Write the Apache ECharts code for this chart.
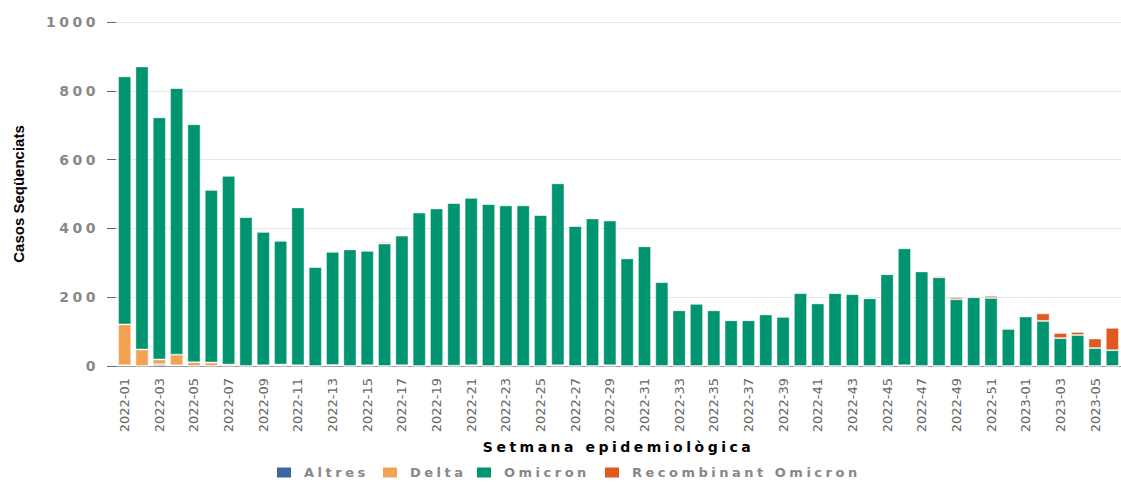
<!DOCTYPE html>
<html>
<head>
<meta charset="utf-8">
<script src="https://cdn.jsdelivr.net/npm/echarts@6.0.0/dist/echarts.min.js"></script>
<style>
html, body { margin: 0; padding: 0; background: #fff; }
#casesChart { width: 1121px; height: 482px; }
/* bold labels in the reference are letter-spaced */
#casesChart text[style*="bold"] { letter-spacing: 3.5px; }
</style>
</head>
<body>
<div id="casesChart"></div>
<script>
// setmanes epidemiològiques
const weeks = [
  '2022-01', '2022-02', '2022-03', '2022-04', '2022-05', '2022-06', '2022-07', '2022-08', '2022-09', '2022-10',
  '2022-11', '2022-12', '2022-13', '2022-14', '2022-15', '2022-16', '2022-17', '2022-18', '2022-19', '2022-20',
  '2022-21', '2022-22', '2022-23', '2022-24', '2022-25', '2022-26', '2022-27', '2022-28', '2022-29', '2022-30',
  '2022-31', '2022-32', '2022-33', '2022-34', '2022-35', '2022-36', '2022-37', '2022-38', '2022-39', '2022-40',
  '2022-41', '2022-42', '2022-43', '2022-44', '2022-45', '2022-46', '2022-47', '2022-48', '2022-49', '2022-50',
  '2022-51', '2022-52', '2023-01', '2023-02', '2023-03', '2023-04', '2023-05', '2023-06'
]
const altres = [
  2, 0, 5, 2, 0, 0, 0, 0, 0, 0,
  0, 0, 2, 0, 0, 0, 0, 0, 1, 0,
  0, 0, 0, 0, 0, 0, 0, 0, 0, 0,
  0, 0, 0, 0, 0, 0, 0, 0, 0, 0,
  0, 0, 0, 0, 0, 0, 0, 0, 0, 0,
  0, 0, 0, 0, 0, 0, 0, 0
]
const delta = [
  119, 48, 14, 31, 11, 10, 4, 0, 2, 4,
  2, 0, 1, 0, 2, 0, 2, 0, 0, 1,
  2, 0, 0, 0, 0, 2, 0, 0, 2, 0,
  0, 0, 0, 0, 0, 0, 0, 0, 0, 0,
  0, 0, 0, 0, 0, 2, 0, 0, 0, 0,
  0, 0, 0, 0, 0, 0, 0, 0
]
const omicron = [
  721, 823, 704, 775, 692, 502, 549, 433, 388, 360,
  459, 288, 329, 339, 333, 356, 377, 446, 457, 473,
  487, 471, 467, 467, 439, 529, 407, 429, 421, 313,
  348, 244, 162, 181, 162, 133, 133, 150, 143, 212,
  182, 212, 209, 197, 267, 340, 275, 258, 194, 200,
  198, 108, 144, 131, 81, 90, 52, 46
]
const recombinant = [
  0, 0, 0, 0, 0, 0, 0, 0, 0, 0,
  0, 0, 0, 0, 0, 4, 0, 0, 2, 0,
  0, 0, 0, 0, 0, 0, 0, 0, 0, 0,
  0, 0, 0, 0, 0, 0, 0, 0, 0, 0,
  2, 0, 0, 0, 0, 3, 0, 4, 6, 0,
  6, 0, 0, 22, 15, 9, 28, 65
]
const variantNames = ['Altres', 'Delta', 'Omicron', 'Recombinant Omicron']
const variantColors = ['#3B67A1', '#F1A253', '#009471', '#E0591F']
const variantData = [altres, delta, omicron, recombinant]
const legendLeft = [277, 383, 477, 605]

const series = variantNames.map((name, i) => ({
  name: name,
  type: 'bar',
  stack: 'casos',
  barCategoryGap: '24%',
  itemStyle: {
    color: variantColors[i],
    borderColor: 'rgba(255,255,255,0.4)',
    borderWidth: 1
  },
  emphasis: { disabled: true },
  data: variantData[i]
}))

// one legend per variant so the spaced-out labels keep the reference spacing
const legends = variantNames.map((name, i) => ({
  left: legendLeft[i],
  top: 466,
  padding: 0,
  icon: 'rect',
  itemWidth: 14,
  itemHeight: 10,
  itemStyle: { borderWidth: 0 },
  textStyle: {
    fontFamily: 'DejaVu Sans',
    fontWeight: 'bold',
    fontSize: 13,
    color: '#888',
    padding: [0, 0, 0, 8]
  },
  data: [name]
}))

const myChart = echarts.init(document.getElementById('casesChart'), null, { renderer: 'svg' })
myChart.setOption({
  animation: false,
  grid: { left: 116, right: -8, top: 22, bottom: 116 },
  legend: legends,
  xAxis: {
    type: 'category',
    data: weeks,
    name: 'Setmana epidemiològica',
    nameLocation: 'middle',
    nameGap: 71,
    nameTextStyle: { fontFamily: 'DejaVu Sans', fontWeight: 'bold', fontSize: 14, color: '#000' },
    axisLine: { lineStyle: { color: '#999' } },
    axisTick: { alignWithLabel: true, interval: 1, length: 5, lineStyle: { color: '#666' } },
    axisLabel: { interval: 1, rotate: 90, margin: 12, fontFamily: 'DejaVu Sans', fontSize: 13, color: '#666' }
  },
  yAxis: {
    type: 'value',
    min: 0,
    max: 1000,
    interval: 200,
    name: 'Casos Seqüenciats',
    nameLocation: 'middle',
    nameGap: 90,
    nameTextStyle: {
      fontFamily: "'Liberation Sans Narrow', 'Liberation Sans', sans-serif",
      fontWeight: 600,
      fontSize: 15,
      color: '#000'
    },
    axisLine: { show: false },
    axisTick: { show: true, length: 9, lineStyle: { color: '#666' } },
    axisLabel: {
      margin: 17,
      fontFamily: 'DejaVu Sans',
      fontWeight: 'bold',
      fontSize: 14,
      color: '#888',
      formatter: v => String(v)
    },
    splitLine: { lineStyle: { color: '#e6e6e6' } }
  },
  series: series
})
</script>
</body>
</html>
